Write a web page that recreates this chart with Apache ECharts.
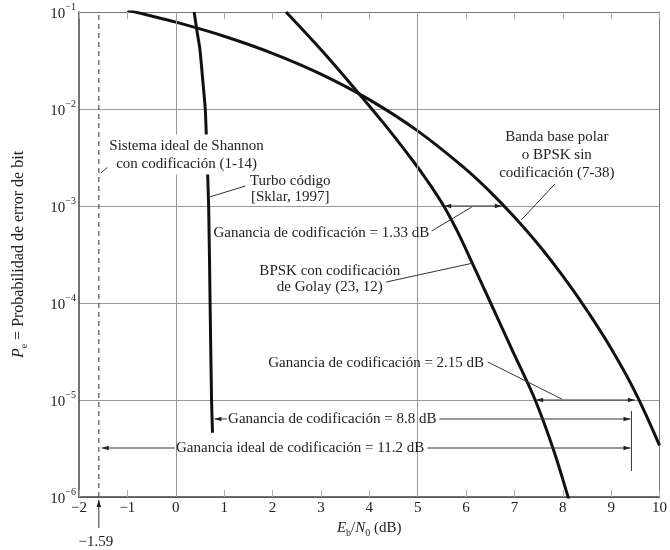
<!DOCTYPE html>
<html><head><meta charset="utf-8">
<script src="https://cdn.jsdelivr.net/npm/echarts@6/dist/echarts.min.js"></script>
<style>html,body{margin:0;padding:0;background:#fff}#c{width:670px;height:550px}</style>
</head><body><div id="c"></div>
<script>
// ---- data ----
const uncodedX  = [-1, -0.5, 0, 1, 2, 3, 4, 5, 6, 6.5, 7, 7.5, 8, 8.5, 9, 9.5, 10];
const uncodedPe = [0.104, 0.091, 0.0786, 0.0563, 0.0375, 0.0229, 0.0125, 0.00595, 0.00239, 0.0014, 7.7e-4, 3.98e-4, 1.9e-4, 8.4e-5, 3.4e-5, 1.2e-5, 3.4e-6];
const golayX    = [2.28, 3.0, 3.7, 4.3, 4.89, 5.2, 5.54, 5.84, 6.13, 6.51, 6.97, 7.43, 7.80, 8.11, 8.25];
const golayPe   = [0.1, 0.041, 0.0162, 7.1e-3, 2.98e-3, 1.82e-3, 1.0e-3, 5.25e-4, 2.57e-4, 1.0e-4, 3.16e-5, 1.0e-5, 3.16e-6, 1.0e-6, 5.6e-7];
const turboX    = [0.38, 0.44, 0.50, 0.55, 0.61, 0.64, 0.68, 0.71, 0.74, 0.76];
const turboPe   = [0.1, 0.063, 0.041, 0.022, 0.01, 4e-3, 1e-3, 1e-4, 1e-5, 4.6e-6];
const shannonLimit = -1.59;
const xTickValues = [-2, -1, 0, 1, 2, 3, 4, 5, 6, 7, 8, 9, 10];
const yExponents  = [-6, -5, -4, -3, -2, -1];
const gridXValues = [0, 5];

const SERIF = '"Liberation Serif", "DejaVu Serif", serif';
const INK = '#222';
const FS = 15;
const zip = (xs, ys) => xs.map((x, i) => [x, ys[i]]);
const minus = s => String(s).replace('-', '\u2212');

const chart = echarts.init(document.getElementById('c'), null, {renderer: 'canvas'});
const curveStyle = {color: '#111', width: 3};
const nameRich = fs => ({
  i: {fontFamily: SERIF, fontStyle: 'italic', fontSize: fs, color: INK, lineHeight: 20, verticalAlign: 'middle'},
  t: {fontFamily: SERIF, fontSize: fs, color: INK, lineHeight: 20, verticalAlign: 'middle'},
  sub: {fontFamily: SERIF, fontSize: 10, color: INK, lineHeight: 10, verticalAlign: 'bottom'}
});

chart.setOption({
  animation: false,
  backgroundColor: '#fff',
  grid: {left: 79, right: 3, top: 12, bottom: 53, containLabel: false},
  xAxis: [{
    type: 'value', min: xTickValues[0], max: xTickValues[xTickValues.length - 1], interval: 1,
    position: 'bottom',
    axisLine: {show: true, onZero: false, lineStyle: {color: '#444', width: 1.5}},
    axisTick: {show: true, inside: true, length: 7, lineStyle: {color: '#aaa'}},
    axisLabel: {formatter: v => minus(v), fontFamily: SERIF, fontSize: FS, color: INK, margin: 4},
    splitLine: {show: false},
    name: '{i|E}{sub|b}{t|/}{i|N}{sub|0}{t| (dB)}',
    nameLocation: 'middle', nameGap: 15,
    nameTextStyle: {rich: nameRich(FS)}
  }, {
    type: 'value', min: xTickValues[0], max: xTickValues[xTickValues.length - 1], interval: 1,
    position: 'top',
    axisLine: {show: true, onZero: false, lineStyle: {color: '#777', width: 1}},
    axisTick: {show: true, inside: true, length: 7, lineStyle: {color: '#aaa'}},
    axisLabel: {show: false}, splitLine: {show: false}
  }],
  yAxis: [{
    type: 'log', logBase: 10, min: Math.pow(10, yExponents[0]), max: Math.pow(10, yExponents[yExponents.length - 1]),
    position: 'left',
    axisLine: {show: true, onZero: false, lineStyle: {color: '#444', width: 1.5}},
    axisTick: {show: false},
    axisLabel: {
      margin: 3,
      formatter: v => '{b|10}{sup|' + minus(Math.round(Math.log10(v))) + '}',
      rich: {
        b: {fontFamily: SERIF, fontSize: FS, color: INK, lineHeight: 19, verticalAlign: 'bottom'},
        sup: {fontFamily: SERIF, fontSize: 10, color: INK, lineHeight: 10, verticalAlign: 'top'}
      }
    },
    splitLine: {show: true, lineStyle: {color: '#999', width: 1}},
    name: '{i|P}{sub|e}{t| = Probabilidad de error de bit}',
    nameLocation: 'middle', nameGap: 50, nameRotate: 90,
    nameTextStyle: {rich: nameRich(16)}
  }, {
    type: 'log', logBase: 10, min: Math.pow(10, yExponents[0]), max: Math.pow(10, yExponents[yExponents.length - 1]),
    position: 'right',
    axisLine: {show: true, onZero: false, lineStyle: {color: '#777', width: 1}},
    axisTick: {show: false}, axisLabel: {show: false}, splitLine: {show: false}
  }],
  series: [{
    name: 'grid', type: 'line', data: [], silent: true,
    markLine: {silent: true, symbol: 'none', label: {show: false},
      lineStyle: {color: '#999', width: 1, type: 'solid'},
      data: gridXValues.map(v => ({xAxis: v}))}
  }, {
    name: 'Shannon', type: 'line', showSymbol: false, silent: true,
    data: [[shannonLimit, Math.pow(10, yExponents[0])], [shannonLimit, Math.pow(10, yExponents[yExponents.length - 1])]],
    lineStyle: {color: '#555', width: 1.2, type: [5, 4]}
  }, {
    name: 'uncoded', type: 'line', showSymbol: false, smooth: 0.4, clip: true,
    data: zip(uncodedX, uncodedPe), lineStyle: curveStyle, z: 3
  }, {
    name: 'golay', type: 'line', showSymbol: false, smooth: 0.35, clip: true,
    data: zip(golayX, golayPe), lineStyle: curveStyle, z: 3
  }, {
    name: 'turbo', type: 'line', showSymbol: false, smooth: 0.25, clip: true,
    data: zip(turboX, turboPe), lineStyle: curveStyle, z: 3
  }]
});

// ---- annotations (positions in data units: [dB, log10 Pe]) ----
const P = (x, lg) => chart.convertToPixel({xAxisIndex: 0, yAxisIndex: 0}, [x, Math.pow(10, lg)]);
const G = [];
const LINE = {stroke: '#333', lineWidth: 1};
function seg(a, b, style) { G.push({type: 'line', z: 50, shape: {x1: a[0], y1: a[1], x2: b[0], y2: b[1]}, style: Object.assign({}, LINE, style || {})}); }
function head(tip, from) {
  const dx = tip[0] - from[0], dy = tip[1] - from[1], L = Math.hypot(dx, dy) || 1;
  const ux = dx / L, uy = dy / L, len = 7, w = 2.3;
  const bx = tip[0] - ux * len, by = tip[1] - uy * len;
  G.push({type: 'polygon', z: 51, shape: {points: [tip, [bx - uy * w, by + ux * w], [bx + uy * w, by - ux * w]]}, style: {fill: '#222'}});
}
function arrow(from, tip) { seg(from, tip); head(tip, from); }
function dbl(a, b) { seg(a, b); head(a, b); head(b, a); }
function text(pos, str, opts) {
  G.push({type: 'text', z: 60, x: pos[0], y: pos[1], style: Object.assign({
    text: str, fill: INK, fontFamily: SERIF, fontSize: FS, lineHeight: 17,
    align: 'center', verticalAlign: 'middle'}, opts || {})});
}

// Shannon label (white box interrupts the turbo curve)
text(P(0.224, -2.47), 'Sistema ideal de Shannon\ncon codificación (1-14)', {lineHeight: 18, backgroundColor: '#fff', padding: [2, 2, 2, 2]});
seg(P(-1.55, -2.66), P(-1.22, -2.52));
// Turbo label
text(P(2.367, -2.825), 'Turbo código\n[Sklar, 1997]', {lineHeight: 16});
seg(P(0.70, -2.907), P(1.44, -2.794));
// 1.33 dB
text(P(3.01, -3.278), 'Ganancia de codificación = 1.33 dB');
seg(P(5.29, -3.258), P(6.12, -3.01));
dbl(P(5.55, -3.0), P(6.74, -3.0));
// Uncoded label
text(P(7.878, -2.474), 'Banda base polar\no BPSK sin\ncodificación (7-38)', {lineHeight: 18});
seg(P(7.143, -3.144), P(7.837, -2.773));
// Golay label
text(P(3.184, -3.758), 'BPSK con codificación\nde Golay (23, 12)', {lineHeight: 16});
seg(P(4.347, -3.784), P(6.13, -3.59));
// 2.15 dB
text(P(4.143, -4.619), 'Ganancia de codificación = 2.15 dB');
seg(P(6.45, -4.608), P(7.98, -4.99));
dbl(P(7.45, -5.0), P(9.49, -5.0));
// 8.8 dB
text(P(3.235, -5.196), 'Ganancia de codificación = 8.8 dB');
arrow(P(1.06, -5.196), P(0.80, -5.196));
arrow(P(5.45, -5.196), P(9.40, -5.196));
// 11.2 dB
text(P(2.571, -5.495), 'Ganancia ideal de codificación = 11.2 dB');
arrow(P(-0.02, -5.495), P(-1.53, -5.495));
arrow(P(5.20, -5.495), P(9.40, -5.495));
seg(P(9.42, -5.113), P(9.42, -5.732));
// -1.59 marker below the axis
const base = P(shannonLimit, yExponents[0]);
arrow([base[0], base[1] + 31], [base[0], base[1] + 3]);
text([base[0] - 3, base[1] + 45], minus(shannonLimit));

chart.setOption({graphic: G});
</script></body></html>
